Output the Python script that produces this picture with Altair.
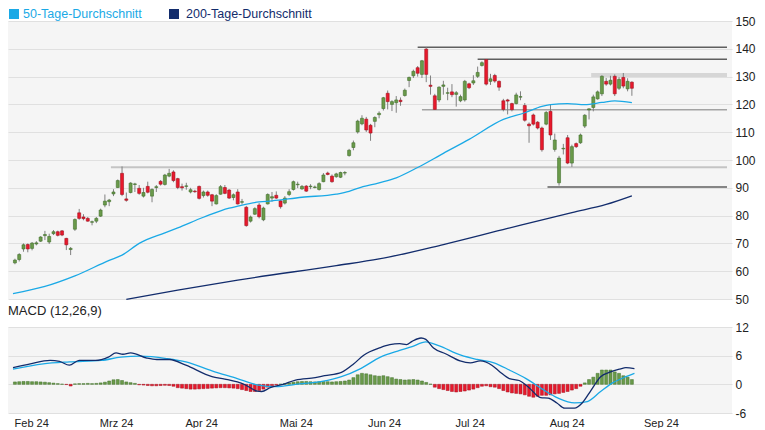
import altair as alt
import pandas as pd
import numpy as np

FONT = "Liberation Sans, Arial, sans-serif"
GREEN, GREEN_D = "#6a9a4a", "#41702c"
RED, RED_D = "#e8192c", "#a3101f"
LIGHT, NAVY = "#1aa9e6", "#122c6c"

# ---------------- data ----------------
opens = [63.0, 64.2, 68.0, 69.6, 68.2, 69.8, 70.8, 72.8, 70.5, 73.5, 74.2, 74.5, 71.8, 67.8, 75.1, 81.0, 79.5, 79.0, 77.6, 78.0,
         79.8, 83.8, 85.0, 87.8, 90.1, 95.2, 86.0, 88.3, 91.2, 89.8, 87.0, 90.5, 87.0, 90.1, 92.3, 91.2, 94.2, 95.7, 93.3, 90.4,
         90.5, 88.5, 88.8, 90.5, 87.2, 88.5, 87.5, 84.2, 87.7, 90.1, 89.2, 86.5, 88.5, 84.8, 83.0, 78.0, 80.5, 83.8, 78.5, 84.2,
         86.3, 87.3, 85.3, 84.5, 87.6, 89.4, 91.1, 89.6, 90.6, 90.4, 90.1, 89.4, 92.2, 95.3, 94.2, 94.0, 93.8, 95.3, 101.6, 104.5,
         110.1, 113.0, 114.7, 112.5, 113.9, 116.3, 118.5, 124.0, 120.0, 120.6, 121.5, 123.2, 128.6, 130.3, 133.2, 130.8, 139.9, 126.9, 123.1, 121.6,
         126.5, 124.0, 124.5, 123.6, 121.3, 121.6, 127.4, 127.7, 130.1, 134.0, 136.1, 128.3, 130.4, 128.3, 121.3, 121.6, 120.3, 120.3, 122.6, 119.6,
         112.9, 116.2, 113.6, 111.5, 112.9, 117.5, 103.8, 91.8, 104.0, 108.0, 98.9, 105.9, 106.2, 112.2, 118.0, 118.9, 122.0, 123.8, 128.3, 127.3,
         130.1, 125.8, 129.7, 125.6, 128.0]
highs = [64.5, 66.5, 70.0, 70.0, 70.5, 70.8, 72.6, 74.5, 73.5, 74.8, 74.6, 74.8, 72.0, 68.7, 79.0, 82.4, 80.5, 79.5, 78.2, 79.5,
         82.5, 87.6, 86.0, 89.5, 93.0, 97.7, 88.3, 92.0, 91.8, 91.0, 90.0, 92.2, 89.8, 91.0, 92.8, 95.0, 96.8, 96.3, 93.6, 91.5,
         91.8, 90.0, 89.3, 90.8, 89.0, 89.0, 87.8, 87.7, 91.0, 91.0, 89.5, 88.0, 89.5, 86.0, 83.5, 80.0, 83.0, 84.5, 83.2, 88.0,
         88.5, 88.7, 85.6, 87.0, 89.5, 92.6, 92.2, 91.0, 91.0, 91.3, 90.8, 92.0, 95.3, 95.8, 94.8, 95.4, 95.8, 96.0, 104.0, 107.0,
         114.5, 116.1, 115.5, 113.0, 115.7, 117.5, 122.7, 125.0, 121.5, 123.0, 122.5, 125.7, 130.0, 132.5, 133.8, 136.0, 140.6, 130.4, 123.8, 126.5,
         128.5, 126.0, 127.3, 124.8, 123.5, 128.8, 127.8, 130.5, 133.6, 135.5, 136.3, 131.0, 131.0, 128.6, 122.0, 122.0, 120.6, 124.2, 124.7, 120.5,
         113.5, 116.7, 114.0, 112.0, 117.6, 119.9, 109.5, 101.5, 105.8, 109.0, 105.5, 106.3, 109.5, 116.5, 118.6, 123.5, 125.0, 130.5, 129.5, 130.3,
         130.8, 129.8, 131.3, 129.4, 128.3]
lows = [62.5, 63.5, 67.0, 66.8, 67.5, 69.3, 70.5, 71.2, 69.8, 73.0, 72.5, 72.6, 67.6, 65.8, 74.5, 78.5, 78.3, 77.8, 76.5, 77.3,
        79.5, 83.0, 83.4, 87.0, 90.0, 87.0, 85.0, 88.0, 88.5, 87.5, 86.5, 88.0, 84.8, 88.5, 90.8, 90.8, 93.8, 92.0, 89.5, 89.0,
        89.3, 88.0, 88.2, 85.8, 86.5, 86.8, 83.4, 84.0, 87.5, 87.7, 86.0, 85.5, 84.0, 84.0, 76.0, 77.5, 80.2, 79.0, 78.0, 84.0,
        85.0, 86.0, 82.5, 84.0, 87.0, 89.0, 89.9, 89.3, 88.5, 89.5, 89.8, 89.0, 92.0, 94.5, 91.8, 93.6, 93.5, 94.5, 101.2, 103.5,
        109.5, 112.5, 110.1, 106.9, 111.8, 115.0, 117.8, 118.2, 117.6, 117.0, 119.5, 122.8, 126.2, 129.5, 130.0, 129.5, 128.0, 123.5, 118.0, 120.8,
        123.5, 121.5, 122.6, 119.2, 120.8, 121.0, 125.5, 127.0, 129.5, 133.6, 126.8, 127.0, 127.8, 124.9, 117.5, 116.4, 117.5, 120.0, 121.5, 113.8,
        106.2, 112.4, 111.0, 103.0, 112.5, 107.2, 103.0, 90.8, 102.0, 98.5, 97.5, 104.3, 105.8, 111.5, 114.6, 117.5, 121.7, 123.0, 126.7, 126.8,
        123.0, 125.2, 125.8, 124.7, 123.1]
closes = [64.0, 66.0, 69.5, 68.0, 70.1, 70.2, 72.3, 73.2, 72.5, 74.2, 72.9, 73.0, 69.5, 68.2, 78.6, 79.0, 78.9, 78.0, 77.8, 79.0,
          82.0, 85.2, 85.6, 88.5, 92.6, 87.6, 85.5, 91.7, 91.4, 88.0, 88.3, 88.4, 89.4, 90.4, 91.3, 94.6, 95.2, 92.6, 90.1, 90.0,
          90.7, 89.3, 88.6, 86.2, 88.5, 87.3, 85.2, 87.2, 90.4, 88.0, 86.3, 87.5, 84.2, 85.0, 76.4, 79.5, 82.5, 79.6, 82.7, 87.6,
          86.8, 86.3, 83.2, 86.3, 88.6, 92.2, 91.3, 90.5, 88.8, 90.6, 90.3, 91.5, 94.6, 94.8, 92.2, 95.0, 95.5, 95.5, 103.5, 106.2,
          114.0, 115.0, 110.8, 109.7, 115.3, 116.8, 122.4, 121.0, 121.0, 121.6, 121.0, 125.1, 129.7, 131.9, 131.2, 135.7, 130.8, 126.5, 118.2, 126.2,
          127.0, 124.2, 123.5, 124.2, 122.8, 128.3, 126.0, 128.5, 131.5, 135.0, 127.3, 129.2, 128.4, 126.2, 118.2, 121.2, 118.1, 123.4, 122.8, 114.3,
          112.3, 112.9, 111.5, 103.7, 117.1, 109.0, 107.2, 100.7, 104.2, 98.9, 104.8, 104.8, 109.0, 116.1, 118.4, 122.7, 124.5, 130.1, 127.3, 128.7,
          123.8, 129.0, 126.6, 128.3, 125.8]

hist = [0.5, 0.55, 0.6, 0.6, 0.55, 0.55, 0.5, 0.45,
        0.35, 0.25, 0.15,
        0.05, -0.05,
        -0.35,
        0.1, 0.15, 0.15, 0.2, 0.15, 0.2, 0.3,
        0.45, 0.7, 0.95, 1.0, 0.8,
        0.5, 0.35, 0.2,
        -0.1, -0.15, -0.25, -0.3, -0.3, -0.25, -0.2, -0.25, -0.4,
        -0.7, -0.8, -0.9, -1.0, -1.0, -0.95, -0.9,
        -0.85, -0.8, -0.75, -0.7, -0.7, -0.75, -0.8, -0.9,
        -1.1, -1.3, -1.5, -1.5, -1.3, -1.0,
        -0.6, -0.3,
        -0.1, 0.05, 0.15, 0.3,
        0.45, 0.55, 0.6, 0.6, 0.55, 0.5, 0.55, 0.6, 0.55, 0.5, 0.55, 0.6, 0.7, 0.9,
        1.4, 2.0, 2.3, 2.2, 2.0, 1.8, 1.7,
        1.8, 1.6, 1.4,
        1.1, 1.0, 0.9, 0.95, 1.0, 0.9, 0.7, 0.4,
        0.05,
        -0.6, -0.9, -1.1, -1.3, -1.5, -1.6, -1.5, -1.4, -1.2, -1.0, -0.7,
        -0.4, -0.3, -0.5, -0.6, -0.9,
        -1.3, -1.6, -1.8, -1.9, -2.0,
        -2.2, -2.5, -2.7, -2.5, -2.3,
        -2.3, -2.2, -2.0, -1.9, -1.7, -1.5, -1.2, -0.9,
        -0.4,
        0.3, 1.0, 1.5, 2.3, 3.0, 3.0, 3.0, 2.6, 2.3, 1.8, 1.5, 1.0]

ma50_idx = [-0.45, 7, 14, 22, 25, 29, 35, 38, 44, 50, 52, 57, 60, 67, 75, 78, 80, 85, 89, 94, 100, 106, 114, 119, 123, 125, 129, 133, 137, 140, 144]
ma50_val = [51.9, 54.5, 58.3, 63.9, 65.8, 70.0, 73.8, 75.6, 79.4, 82.7, 83.4, 84.9, 85.3, 86.6, 87.7, 88.7, 89.8, 91.8, 93.6, 97.3,
            102.4, 107.4, 114.6, 117.0, 119.3, 119.9, 120.3, 119.9, 120.7, 121.3, 120.6]
ma200_idx = [26, 38, 52, 75, 85, 100, 115, 130, 138, 144]
ma200_val = [49.9, 53.2, 56.8, 62.0, 64.4, 69.6, 75.4, 81.1, 84.0, 87.1]

macd_idx = [-0.45, 3.6, 8.2, 10.4, 12.7, 15.0, 18.8, 21.8, 23.6, 25.2, 27.0, 30.8, 33.1, 36.1, 39.9, 46.0, 49.0, 53.5, 56.5, 57.6,
            59.6, 62.6, 65.5, 70.1, 72.3, 76.2, 79.1, 81.4, 85.3, 87.5, 89.8, 91.4, 92.7, 94.8, 95.9, 97.7, 100.5, 103.9, 106.3, 108.6,
            111.3, 113.2, 115.4, 117.7, 120.0, 122.7, 124.5, 126.5, 128.3, 130.6, 132.4, 134.5, 136.7, 139.0, 141.2, 142.6, 144.6]
macd_val = [3.5, 4.3, 5.0, 4.8, 4.0, 5.0, 5.0, 5.7, 6.6, 6.3, 6.6, 5.5, 5.2, 5.2, 4.0, 1.6, 1.1, 0.0, -1.4, -1.5,
            -0.7, 0.0, 0.9, 1.4, 1.8, 2.5, 4.3, 6.1, 7.7, 8.3, 8.5, 8.3, 9.0, 9.7, 9.4, 7.6, 6.4, 4.9, 4.5, 4.9,
            4.0, 2.6, 1.2, 0.8, -0.7, -2.8, -2.9, -3.9, -5.0, -5.0, -3.9, -1.2, 1.6, 2.6, 3.2, 3.5, 3.3]
signal_idx = [-0.45, 6.6, 12.7, 20.2, 24.7, 29.3, 35.4, 39.9, 46.0, 51.9, 56.5, 61.0, 65.5, 71.7, 76.2, 80.7, 85.3, 89.8, 92.7, 95.9,
              98.9, 104.1, 107.9, 111.8, 115.4, 119.3, 123.1, 126.8, 130.6, 133.6, 136.7, 139.7, 142.6, 144.6]
signal_val = [3.2, 4.3, 4.7, 5.0, 5.7, 5.9, 5.4, 4.7, 2.8, 1.2, -0.1, -0.5, 0.0, 0.6, 1.6, 3.3, 5.7, 7.1, 7.9, 8.9,
              8.1, 6.1, 5.2, 4.5, 3.0, 1.2, -1.0, -2.9, -3.9, -3.6, -1.5, 0.4, 1.6, 2.3]

# horizontal support / resistance levels (price, first candle index)
level_price = [140.6, 136.2, 130.6, 118.1, 97.4, 90.3]
level_start = [94.0, 108.0, 134.5, 95.0, 22.4, 124.3]
level_style = [("#5f5f5f", 1.5), ("#5f5f5f", 1.5), ("#d6d6d6", 4), ("#a3a3a3", 1.5), ("#c4c4c4", 2), ("#5f5f5f", 1.5)]

month_pos = [-0.2, 19.7, 39.7, 61.7, 82.3, 102.7, 124.7, 146.7]
month_labels = ["Feb 24", "Mrz 24", "Apr 24", "Mai 24", "Jun 24", "Jul 24", "Aug 24", "Sep 24"]
price_ticks = [50, 60, 70, 80, 90, 100, 110, 120, 130, 140, 150]
macd_ticks = [-6, 0, 6, 12]
legend_labels = ["50-Tage-Durchschnitt", "200-Tage-Durchschnitt"]

# ---------------- chart ----------------
X_DOM = [-0.45, 166.2]
W, H1, H2 = 724, 278, 86
xs = alt.Scale(domain=X_DOM, nice=False, zero=False)
x_noaxis = alt.X("i:Q", scale=xs, axis=None)

ys = alt.Scale(domain=[50, 150], nice=False, zero=False)
y_axis = alt.Axis(orient="right", values=price_ticks, grid=True, gridColor="#e0e0e0", gridWidth=1,
                  domain=False, ticks=False, labelPadding=3, labelFontSize=12, labelColor="#222",
                  labelFont=FONT, labelFlush=False, labelBound=False, title=None)

cdf = pd.DataFrame({"i": list(range(len(opens))), "o": opens, "h": highs, "l": lows, "c": closes})
cdf["dir"] = np.where(cdf["c"] >= cdf["o"], "up", "down")

fill_scale = alt.Scale(domain=["up", "down"], range=[GREEN, RED])
stroke_scale = alt.Scale(domain=["up", "down"], range=[GREEN_D, RED_D])

layers = []
for lp, ls, (col, wd) in zip(level_price, level_start, level_style):
    ldf = pd.DataFrame({"i": [ls], "i2": [X_DOM[1]], "p": [lp]})
    layers.append(alt.Chart(ldf).mark_rule(color=col, strokeWidth=wd).encode(
        x=x_noaxis, x2="i2:Q", y=alt.Y("p:Q", scale=ys, axis=y_axis)))

wicks = alt.Chart(cdf).mark_rule(color="#808080", strokeWidth=1).encode(
    x=x_noaxis, y=alt.Y("l:Q", scale=ys, axis=y_axis), y2="h:Q")
bodies = alt.Chart(cdf).mark_bar(size=3, strokeWidth=0.6).encode(
    x=x_noaxis, y=alt.Y("o:Q", scale=ys, axis=y_axis), y2="c:Q",
    fill=alt.Fill("dir:N", scale=fill_scale, legend=None),
    stroke=alt.Stroke("dir:N", scale=stroke_scale, legend=None))

ma50 = alt.Chart(pd.DataFrame({"i": ma50_idx, "v": ma50_val})).mark_line(
    color=LIGHT, strokeWidth=1.3, interpolate="monotone").encode(x=x_noaxis, y=alt.Y("v:Q", scale=ys, axis=y_axis))
ma200 = alt.Chart(pd.DataFrame({"i": ma200_idx, "v": ma200_val})).mark_line(
    color=NAVY, strokeWidth=1.3, interpolate="monotone").encode(x=x_noaxis, y=alt.Y("v:Q", scale=ys, axis=y_axis))

legend_layers = []
for lab, col, sq_x, tx_x in zip(legend_labels, [LIGHT, NAVY], [1, 161], [15, 178]):
    ldf = pd.DataFrame({"label": [lab]})
    legend_layers.append(alt.Chart(ldf).mark_rect(color=col).encode(
        x=alt.value(sq_x), x2=alt.value(sq_x + 10), y=alt.value(-12), y2=alt.value(-2)))
    legend_layers.append(alt.Chart(ldf).mark_text(align="left", baseline="middle", fontSize=12.5,
                                                  color=col, font=FONT).encode(
        x=alt.value(tx_x), y=alt.value(-7), text="label:N"))

top = alt.layer(*layers, wicks, bodies, ma50, ma200, *legend_layers).properties(width=W, height=H1)

# MACD panel
ys2 = alt.Scale(domain=[-6, 12], nice=False, zero=False)
y2_axis = alt.Axis(orient="right", values=macd_ticks, grid=True, gridColor="#e0e0e0", gridWidth=1,
                   domain=False, ticks=False, labelPadding=3, labelFontSize=12, labelColor="#222",
                   labelFont=FONT, labelFlush=False, labelBound=False, title=None,
                   labelExpr="'' + datum.value")
pos_js = ",".join(str(p) for p in month_pos)
lab_js = ",".join("'" + m + "'" for m in month_labels)
x_axis = alt.Axis(values=month_pos, labelExpr=f"[{lab_js}][indexof([{pos_js}], datum.value)]",
                  grid=False, ticks=False, domain=False, labelAlign="left", labelFontSize=11,
                  labelColor="#222", labelFont=FONT, labelPadding=4, labelFlush=False,
                  labelOverlap=False, labelBound=False, title=None)
x_ax = alt.X("i:Q", scale=xs, axis=x_axis)

hdf = pd.DataFrame({"i": list(range(len(hist))), "h": hist})
hdf["dir"] = np.where(hdf["h"] >= 0, "up", "down")
hbars = alt.Chart(hdf).mark_bar(size=3, strokeWidth=0.5).encode(
    x=x_ax, y=alt.Y("h:Q", scale=ys2, axis=y2_axis), y2=alt.datum(0),
    fill=alt.Fill("dir:N", scale=fill_scale, legend=None),
    stroke=alt.Stroke("dir:N", scale=stroke_scale, legend=None))
sig = alt.Chart(pd.DataFrame({"i": signal_idx, "v": signal_val})).mark_line(
    color=LIGHT, strokeWidth=1.3, interpolate="monotone").encode(x=x_ax, y=alt.Y("v:Q", scale=ys2, axis=y2_axis))
macd = alt.Chart(pd.DataFrame({"i": macd_idx, "v": macd_val})).mark_line(
    color=NAVY, strokeWidth=1.3, interpolate="monotone").encode(x=x_ax, y=alt.Y("v:Q", scale=ys2, axis=y2_axis))

bottom = alt.layer(hbars, sig, macd).properties(
    width=W, height=H2,
    title=alt.TitleParams("MACD (12,26,9)", anchor="start", fontSize=13, fontWeight="normal",
                          font=FONT, color="#222", offset=3))

chart = alt.vconcat(top, bottom, spacing=0).properties(
    padding={"left": 0, "top": 0, "right": 0, "bottom": 0}
).configure_view(fill="#f5f5f5", strokeWidth=0).configure_axis(labelFont=FONT)

chart.save("out.html", embed_options={"renderer": "svg", "actions": False})
